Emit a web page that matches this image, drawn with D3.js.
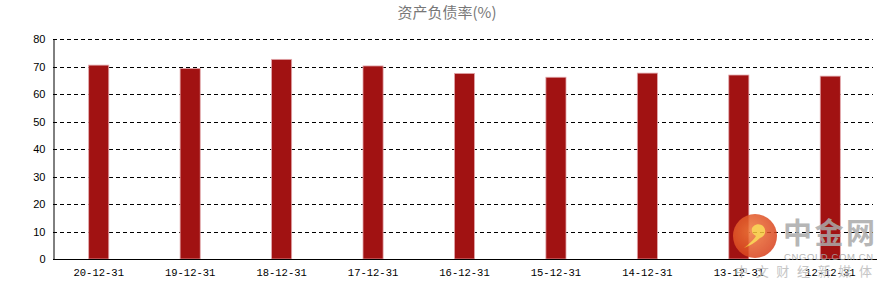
<!DOCTYPE html>
<html>
<head>
<meta charset="utf-8">
<script src="https://cdn.jsdelivr.net/npm/d3@7"></script>
<style>
  body { margin: 0; background: #fff; }
  svg { display: block; }
</style>
</head>
<body>
<svg id="chart" width="889" height="286"></svg>
<script>
const categories = ['20-12-31', '19-12-31', '18-12-31', '17-12-31', '16-12-31', '15-12-31', '14-12-31', '13-12-31', '12-12-31'];
const values = [70.5, 69.3, 72.6, 70.2, 67.5, 66.1, 67.6, 66.9, 66.5];
const yTicks = [0, 10, 20, 30, 40, 50, 60, 70, 80];
const title = '资产负债率(%)';

const svg = d3.select('#chart');
const margin = { left: 53, right: 13, top: 39, bottom: 27 };
const width = 889, height = 286;

const x = d3.scaleBand()
    .domain(categories)
    .range([margin.left, width - margin.right])
    .paddingInner(0.78)
    .paddingOuter(0.39);

const y = d3.scaleLinear()
    .domain([0, 80])
    .range([height - margin.bottom, margin.top]);

// title
svg.append('text')
    .attr('x', 447).attr('y', 18)
    .attr('text-anchor', 'middle')
    .attr('font-family', '"Noto Sans CJK SC", sans-serif')
    .attr('font-size', 15)
    .attr('fill', '#777')
    .text(title);

// dashed grid
svg.append('g')
    .selectAll('line')
    .data(yTicks.filter(d => d > 0))
    .join('line')
    .attr('x1', margin.left).attr('x2', 873)
    .attr('y1', d => Math.round(y(d)) + 0.5).attr('y2', d => Math.round(y(d)) + 0.5)
    .attr('stroke', '#000')
    .attr('stroke-dasharray', '4,3');

// bars
svg.append('g')
    .selectAll('rect')
    .data(values)
    .join('rect')
    .attr('x', (d, i) => x(categories[i]))
    .attr('y', d => y(d))
    .attr('width', x.bandwidth())
    .attr('height', d => y(0) - y(d))
    .attr('fill', '#a11212')
    .attr('stroke', '#e3a9ad')
    .attr('stroke-width', 0.8);

// axes
const yAxis = svg.append('g')
    .attr('transform', `translate(${margin.left + 0.5},0)`)
    .call(d3.axisLeft(y).tickValues(yTicks).tickSize(0).tickPadding(8));
yAxis.select('.domain').attr('stroke', '#000');
yAxis.selectAll('text')
    .attr('font-family', '"Liberation Sans", Arial, sans-serif')
    .attr('font-size', 11)
    .attr('fill', '#000');

const xAxis = svg.append('g')
    .attr('transform', `translate(0,${Math.round(y(0)) + 0.5})`)
    .call(d3.axisBottom(x).tickSize(0).tickPadding(9));
xAxis.select('.domain').attr('stroke', '#000').attr('d', `M${margin.left},0H877`);
xAxis.selectAll('text')
    .attr('font-family', '"Liberation Mono", "DejaVu Sans Mono", monospace')
    .attr('font-size', 10.5)
    .attr('fill', '#000');

// watermark
const wm = svg.append('g').attr('opacity', 0.85);
const grad = svg.append('defs').append('radialGradient').attr('id', 'logoGrad')
    .attr('cx', '40%').attr('cy', '40%').attr('r', '65%');
grad.append('stop').attr('offset', '0%').attr('stop-color', '#f07a3a');
grad.append('stop').attr('offset', '100%').attr('stop-color', '#d8401c');
wm.append('circle').attr('cx', 755).attr('cy', 236).attr('r', 22).attr('fill', 'url(#logoGrad)');
wm.append('path')
    .attr('d', 'M752,228 a7,7 0 1,1 8,10 q-6,6 -16,10 q10,-8 12,-12 a7,7 0 0,1 -4,-8 z')
    .attr('fill', '#f7c63a');
wm.append('text').attr('x', 783).attr('y', 244)
    .attr('font-family', '"Noto Sans CJK SC", sans-serif')
    .attr('font-weight', 'bold').attr('font-size', 29)
    .attr('fill', '#aaa').attr('textLength', 92)
    .text('中金网');
wm.append('text').attr('x', 784).attr('y', 260)
    .attr('font-family', '"Liberation Sans", sans-serif')
    .attr('font-size', 9.5).attr('fill', '#aaa').attr('textLength', 89)
    .text('CNGOLD.COM.CN');
wm.append('text').attr('x', 735).attr('y', 276)
    .attr('font-family', '"Noto Sans CJK SC", sans-serif')
    .attr('font-size', 13).attr('fill', '#bbb').attr('textLength', 137)
    .text('中文财经新媒体');
</script>
</body>
</html>
